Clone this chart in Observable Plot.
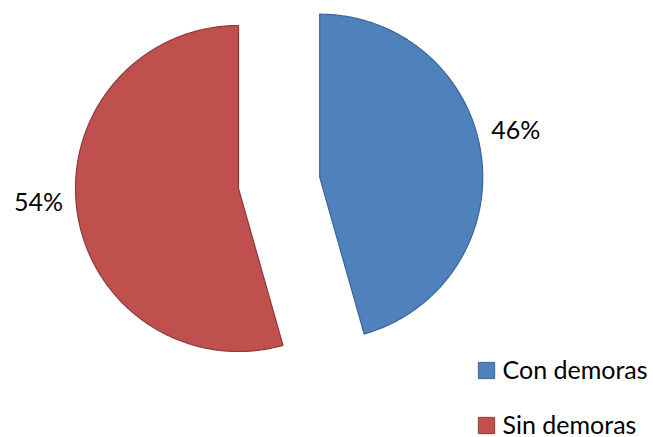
<!DOCTYPE html>
<html><head><meta charset="utf-8">
<script src="https://cdn.jsdelivr.net/npm/d3@7"></script>
<script src="https://cdn.jsdelivr.net/npm/@observablehq/plot@0.6"></script>
<style>
html,body{margin:0;padding:0;background:#fff;}
</style>
</head><body>
<div id="chart"></div>
<script>
// ---- data ----
const categories = ["Con demoras", "Sin demoras"];
const values = [45.6, 54.4];
const labels = ["46%", "54%"];

// ---- styling / layout ----
const W = 653, H = 437;
const fills = ["#4F81BD", "#C0504D"];
const strokes = ["#3A659A", "#8E3A38"];
const cx = 238, cy = 188, R = 163;
const explode = [82, 0];          // px pulled out along mid-angle
const labelShift = [[196, -46], [-200, 14]]; // label offset from slice center
const font = "Lato, 'Open Sans', sans-serif";
const fontSize = 25;

const pie = d3.pie().sort(null).value(d => d)(values);
const pt = (x0, y0, r, a) => ({x: x0 + r * Math.sin(a), y: y0 - r * Math.cos(a)});

const slices = pie.map((p, i) => {
  const mid = (p.startAngle + p.endAngle) / 2;
  const ox = cx + explode[i] * Math.sin(mid), oy = cy - explode[i] * Math.cos(mid);
  const pts = [{x: ox, y: oy}];
  const n = Math.ceil((p.endAngle - p.startAngle) / (Math.PI / 360));
  for (let k = 0; k <= n; k++) {
    const a = p.startAngle + (p.endAngle - p.startAngle) * k / n;
    pts.push(pt(ox, oy, R, a));
  }
  pts.push({x: ox, y: oy});
  return {i, ox, oy, pts};
});

const labelData = slices.map(s => ({x: s.ox + labelShift[s.i][0], y: s.oy + labelShift[s.i][1], t: labels[s.i]}));
const legendData = categories.map((c, i) => ({c, i, x: 486, y: 370 + i * 55}));

const marks = [];
slices.forEach(s => {
  marks.push(Plot.line(s.pts, {x: "x", y: "y", fill: fills[s.i], stroke: strokes[s.i], strokeWidth: 1.2, curve: "linear"}));
});
marks.push(Plot.text(labelData, {x: "x", y: "y", text: "t", fontSize, fill: "#000", textAnchor: "middle"}));
marks.push(Plot.dot(legendData, {x: "x", y: "y", symbol: "square", r: 9.2, fill: d => fills[d.i], stroke: d => strokes[d.i], strokeWidth: 1}));
marks.push(Plot.text(legendData, {x: d => d.x + 16, y: "y", text: "c", fontSize, fill: "#000", textAnchor: "start"}));

const chart = Plot.plot({
  width: W, height: H,
  margin: 0,
  x: {domain: [0, W], range: [0, W], axis: null},
  y: {domain: [0, H], range: [0, H], axis: null},
  color: {type: "identity"},
  style: {fontFamily: font, background: "#fff", overflow: "visible"},
  marks
});
document.getElementById("chart").appendChild(chart);
</script>
</body></html>
